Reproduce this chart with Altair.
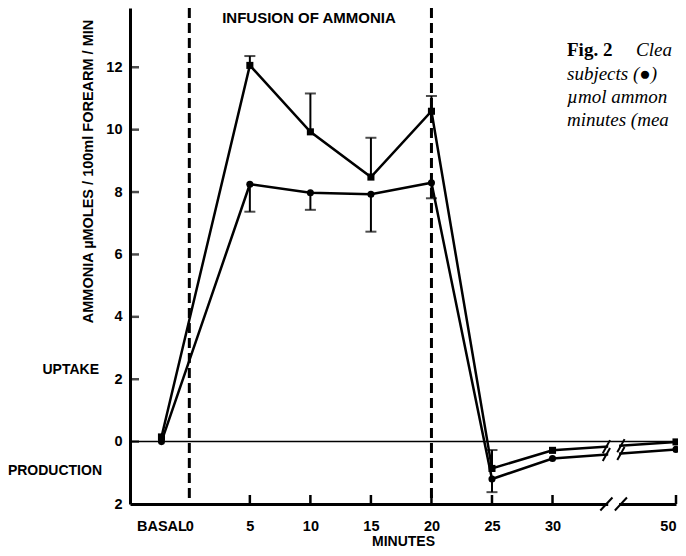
import altair as alt
import pandas as pd

FONT = "Liberation Sans, Arial, sans-serif"
SERIF = "Liberation Serif, Times New Roman, serif"

# ---- data (x position in minutes; 50 min drawn after the axis break) ----
X_LABELS = ["BASAL", "0", "5", "10", "15", "20", "25", "30", "50"]
X_POS = [-2.3, 0, 5, 10, 15, 20, 25, 30, 40.2]

PT_X = [-2.3, 5, 10, 15, 20, 25, 30, 40.2]
SQUARE_Y = [0.15, 12.06, 9.93, 8.48, 10.59, -0.86, -0.28, -0.01]
CIRCLE_Y = [0.0, 8.25, 7.98, 7.93, 8.30, -1.20, -0.54, -0.25]

ERR_X = [5, 10, 15, 20, 25]
SQUARE_MEAN = [12.06, 9.93, 8.48, 10.59, -0.86]
SQUARE_HI = [12.36, 11.16, 9.74, 11.08, -0.27]
CIRCLE_MEAN = [8.25, 7.98, 7.93, 8.30, -1.20]
CIRCLE_LO = [7.37, 7.43, 6.73, 7.80, -1.62]

Y_TICKS = [-2, 0, 2, 4, 6, 8, 10, 12]
X_TICKS = [5, 10, 15, 20, 25, 30, 40.2]
INFUSION = [0, 20]
BREAK_LO, BREAK_HI = 34.6, 35.5
SLASH_X = [34.45, 35.65]

W, H = 546, 496
XS = alt.Scale(domain=[-4.9, 40.2], nice=False, zero=False)
YS = alt.Scale(domain=[-2, 13.9], nice=False, zero=False)

pts = pd.DataFrame({
    "x": PT_X * 2,
    "y": SQUARE_Y + CIRCLE_Y,
    "s": ["square"] * len(PT_X) + ["circle"] * len(PT_X),
})
err = pd.DataFrame({
    "x": ERR_X * 2,
    "y": SQUARE_MEAN + CIRCLE_MEAN,
    "e": SQUARE_HI + CIRCLE_LO,
})


def interp(xs, ys, x):
    for i in range(len(xs) - 1):
        if xs[i] <= x <= xs[i + 1]:
            t = (x - xs[i]) / (xs[i + 1] - xs[i])
            return ys[i] + t * (ys[i + 1] - ys[i])
    return ys[-1]


slash_rows = []
for sx in SLASH_X:
    for ys in (SQUARE_Y, CIRCLE_Y):
        cy = interp(PT_X, ys, sx)
        slash_rows.append({"x": sx - 0.3, "x2": sx + 0.3, "y": cy - 0.21, "y2": cy + 0.21})
    slash_rows.append({"x": sx - 0.5, "x2": sx + 0.5, "y": -2.21, "y2": -1.79})
slashes = pd.DataFrame(slash_rows)

label_expr = " : ".join(
    f"datum.value == {p} ? '{l}'" for p, l in zip(X_POS, X_LABELS)
) + " : ''"

x_axis = alt.Axis(
    values=X_POS, labelExpr=label_expr, ticks=False, grid=False,
    domainWidth=3, domainColor="black", labelFont=FONT, labelFontSize=14.5,
    labelFontWeight="bold", labelColor="black", labelPadding=15,
    labelOverlap=False, labelFlush=True, labelBound=False,
    title="MINUTES", titleFont=FONT, titleFontSize=14, titleFontWeight="bold",
    titleColor="black", titleBaseline="middle", titleY=37,
)
y_axis = alt.Axis(
    values=Y_TICKS, labelExpr="abs(datum.value)", ticks=False, grid=False,
    domainWidth=3, domainColor="black", labelFont=FONT, labelFontSize=14.5,
    labelFontWeight="bold", labelColor="black", labelPadding=8,
    labelOverlap=False, labelFlush=False, labelBaseline="middle",
    title="AMMONIA \u00b5MOLES / 100ml FOREARM / MIN", titleFont=FONT,
    titleFontSize=14.5, titleFontWeight="bold", titleColor="black",
    titleX=-42, titleY=163, titleBaseline="middle", titleAlign="center", titleAngle=-90,
)

base = alt.Chart(pts)

lines = base.mark_line(color="black", strokeWidth=2.5).encode(
    x=alt.X("x:Q", scale=XS, axis=x_axis),
    y=alt.Y("y:Q", scale=YS, axis=y_axis),
    detail="s:N",
)
points = base.mark_point(filled=True, opacity=1, color="black", size=50).encode(
    x="x:Q", y="y:Q",
    shape=alt.Shape("s:N", scale=alt.Scale(domain=["square", "circle"], range=["square", "circle"]), legend=None),
)
err_rules = alt.Chart(err).mark_rule(color="black", strokeWidth=2).encode(
    x="x:Q", y="y:Q", y2="e:Q",
)
err_caps = alt.Chart(err).mark_tick(color="black", orient="horizontal", size=11, thickness=2).encode(
    x="x:Q", y="e:Q",
)
zero = alt.Chart(pd.DataFrame({"y": [0]})).mark_rule(color="black", strokeWidth=1.5).encode(
    y="y:Q"
)
dashed = alt.Chart(pd.DataFrame({"x": INFUSION})).mark_rule(
    color="black", strokeWidth=3, strokeDash=[10, 5]
).encode(x="x:Q")
gap = alt.Chart(pd.DataFrame({"a": [0]})).mark_rect(color="white").encode(
    x=alt.datum(BREAK_LO), x2=alt.datum(BREAK_HI), y=alt.datum(-2.25), y2=alt.datum(-0.06)
)
slash = alt.Chart(slashes).mark_rule(color="black", strokeWidth=2).encode(
    x="x:Q", x2="x2:Q", y="y:Q", y2="y2:Q"
)
yticks = alt.Chart(pd.DataFrame({"y": Y_TICKS[1:]})).mark_tick(
    color="black", orient="horizontal", size=9, thickness=2.5
).encode(y="y:Q", x=alt.value(4.5))
xticks = alt.Chart(pd.DataFrame({"x": X_TICKS})).mark_rule(color="black", strokeWidth=2.5).encode(
    x="x:Q", y=alt.value(H), y2=alt.value(H - 9)
)


def txt(text, x, y, align="left", font=FONT, size=14, weight="bold", style="normal", baseline="middle"):
    return alt.Chart(pd.DataFrame({"t": [text]})).mark_text(
        align=align, baseline=baseline, font=font, fontSize=size, fontWeight=weight,
        fontStyle=style, color="black",
    ).encode(text="t:N", x=alt.value(x), y=alt.value(y))


texts = [
    txt("INFUSION OF AMMONIA", 179, 10, align="center", size=15),
    txt("UPTAKE", -31, 362, align="right"),
    txt("PRODUCTION", -28, 463, align="right"),
    txt("Fig. 2", 437, 48, font=SERIF, size=19, weight="bold", baseline="alphabetic"),
    txt("Clea", 506, 48, font=SERIF, size=19, weight="normal", style="italic", baseline="alphabetic"),
    txt("subjects (\u25cf)", 437, 72, font=SERIF, size=19, weight="normal", style="italic", baseline="alphabetic"),
    txt("\u00b5mol ammon", 437, 95, font=SERIF, size=19, weight="normal", style="italic", baseline="alphabetic"),
    txt("minutes (mea", 437, 118, font=SERIF, size=19, weight="normal", style="italic", baseline="alphabetic"),
]

chart = alt.layer(
    zero, dashed, lines, err_rules, err_caps, points, gap, slash, yticks, xticks, *texts
).properties(
    width=W, height=H,
    background="white",
    autosize=alt.AutoSizeParams(type="none"),
    padding={"left": 122, "top": 0, "right": 2, "bottom": 44},
).configure_view(stroke=None)

chart.save("out.html", embed_options={"renderer": "svg", "actions": False})
